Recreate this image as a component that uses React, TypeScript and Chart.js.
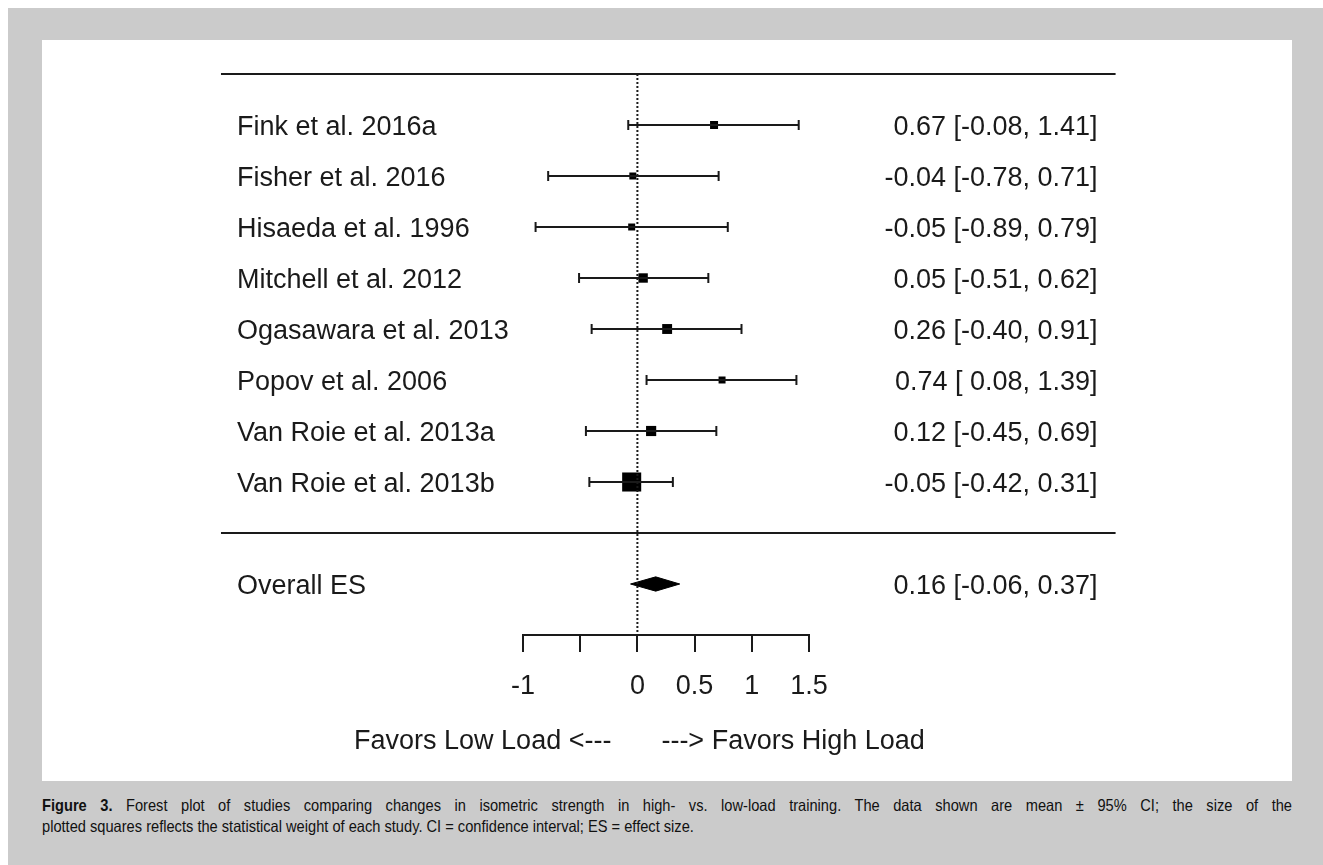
import React, { useEffect, useRef } from "react";
import { Chart, registerables } from "chart.js";

Chart.register(...registerables);

// ---------- data ----------
const studies = [
  "Fink et al. 2016a",
  "Fisher et al. 2016",
  "Hisaeda et al. 1996",
  "Mitchell et al. 2012",
  "Ogasawara et al. 2013",
  "Popov et al. 2006",
  "Van Roie et al. 2013a",
  "Van Roie et al. 2013b",
];
const effectSizes = [0.67, -0.04, -0.05, 0.05, 0.26, 0.74, 0.12, -0.05];
const ciLower = [-0.08, -0.78, -0.89, -0.51, -0.4, 0.08, -0.45, -0.42];
const ciUpper = [1.41, 0.71, 0.79, 0.62, 0.91, 1.39, 0.69, 0.31];
// relative plotted weight of each study (square size)
const relativeWeights = [0.63, 0.55, 0.55, 0.74, 0.78, 0.55, 0.8, 1.5];

const overallLabel = "Overall ES";
const overallEstimate = 0.16;
const overallLower = -0.06;
const overallUpper = 0.37;

const xTicks = [-1, -0.5, 0, 0.5, 1, 1.5];
const xTickLabels = ["-1", "", "0", "0.5", "1", "1.5"];
const xLabelLeft = "Favors Low Load <---";
const xLabelRight = "---> Favors High Load";

// plot limits in effect-size units (like R's xlim) and row layout
const XLIM = [-3.64, 4.18];
const ROW_TOP_RULE = -1;
const ROW_SEPARATOR = studies.length;
const ROW_OVERALL = studies.length + 1;
const ROW_AXIS = studies.length + 2;

const FONT = '"Liberation Sans", Arial, sans-serif';
const INK = "#1a1a1a";

const fmt = (v: number) => v.toFixed(2);
const fmtLo = (v: number) => (v < 0 ? fmt(v) : " " + fmt(v));
const annotation = (est: number, lo: number, hi: number) =>
  `${fmt(est)} [${fmtLo(lo)}, ${fmt(hi)}]`;

const textPlugin = {
  id: "forestText",
  afterDatasetsDraw(chart: any) {
    const { ctx, scales, chartArea } = chart;
    const xs = scales.x;
    const ys = scales.y;
    const left = xs.getPixelForValue(XLIM[0]) + 16;
    const right = xs.getPixelForValue(XLIM[1]) - 18;
    ctx.save();
    ctx.fillStyle = INK;
    ctx.font = `27px ${FONT}`;
    ctx.textBaseline = "alphabetic";
    studies.forEach((s, i) => {
      const y = ys.getPixelForValue(i) + 10;
      ctx.textAlign = "left";
      ctx.fillText(s, left, y);
      ctx.textAlign = "right";
      ctx.fillText(annotation(effectSizes[i], ciLower[i], ciUpper[i]), right, y);
    });
    const yo = ys.getPixelForValue(ROW_OVERALL) + 10;
    ctx.textAlign = "left";
    ctx.fillText(overallLabel, left, yo);
    ctx.textAlign = "right";
    ctx.fillText(annotation(overallEstimate, overallLower, overallUpper), right, yo);

    const x0 = xs.getPixelForValue(0);
    const yl = chartArea.bottom + 114;
    ctx.textAlign = "right";
    ctx.fillText(xLabelLeft, x0 - 26, yl);
    ctx.textAlign = "left";
    ctx.fillText(xLabelRight, x0 + 24, yl);
    ctx.restore();
  },
};

const CAPTION_SCALE = 0.887;

export default function App() {
  const ref = useRef<HTMLCanvasElement | null>(null);

  useEffect(() => {
    if (!ref.current) return;
    const lineDs = (data: any[], extra: any = {}) => ({
      type: "line",
      data,
      showLine: true,
      borderColor: INK,
      borderWidth: 2,
      pointRadius: 0,
      fill: false,
      clip: false,
      ...extra,
    });

    const datasets: any[] = [
      lineDs(
        [
          { x: 0, y: ROW_TOP_RULE },
          { x: 0, y: ROW_AXIS },
        ],
        { borderDash: [2, 2] }
      ),
      lineDs([
        { x: XLIM[0], y: ROW_TOP_RULE },
        { x: XLIM[1], y: ROW_TOP_RULE },
      ]),
      lineDs([
        { x: XLIM[0], y: ROW_SEPARATOR },
        { x: XLIM[1], y: ROW_SEPARATOR },
      ]),
      ...studies.map((_, i) =>
        lineDs([
          { x: ciLower[i], y: i },
          { x: ciUpper[i], y: i },
        ])
      ),
      {
        type: "scatter",
        data: studies.flatMap((_, i) => [
          { x: ciLower[i], y: i },
          { x: ciUpper[i], y: i },
        ]),
        pointStyle: "line",
        pointRotation: 90,
        pointRadius: 5,
        pointBorderWidth: 2,
        pointBorderColor: INK,
        clip: false,
      },
      {
        type: "scatter",
        data: effectSizes.map((v, i) => ({ x: v, y: i })),
        pointStyle: "rect",
        pointRadius: relativeWeights.map((w) => (w * 12.7) / Math.SQRT2),
        pointBackgroundColor: "#000",
        pointBorderColor: "#000",
        pointBorderWidth: 0,
        clip: false,
      },
      lineDs(
        [
          { x: overallLower, y: ROW_OVERALL },
          { x: overallEstimate, y: ROW_OVERALL - 0.14 },
          { x: overallUpper, y: ROW_OVERALL },
          { x: overallEstimate, y: ROW_OVERALL + 0.14 },
          { x: overallLower, y: ROW_OVERALL },
        ],
        { fill: "shape", backgroundColor: "#000", borderColor: "#000", borderWidth: 1 }
      ),
    ];

    const chart = new Chart(ref.current, {
      type: "scatter",
      data: { datasets },
      plugins: [textPlugin],
      options: {
        animation: false,
        responsive: false,
        events: [],
        layout: { padding: { left: 481, right: 483, top: 34, bottom: 0 } },
        plugins: { legend: { display: false }, tooltip: { enabled: false } },
        scales: {
          x: {
            type: "linear",
            min: xTicks[0],
            max: xTicks[xTicks.length - 1],
            afterBuildTicks: (s: any) => {
              s.ticks = xTicks.map((v) => ({ value: v }));
            },
            afterFit: (s: any) => {
              s.height = 146;
            },
            ticks: {
              autoSkip: false,
              maxRotation: 0,
              padding: 18,
              color: INK,
              font: { family: FONT, size: 27 },
              callback: (_v: any, i: number) => xTickLabels[i],
            },
            grid: {
              drawOnChartArea: false,
              drawTicks: true,
              tickLength: 17,
              color: INK,
              lineWidth: 2,
            },
            border: { display: true, color: INK, width: 2 },
          },
          y: {
            type: "linear",
            display: false,
            reverse: true,
            min: ROW_TOP_RULE,
            max: ROW_AXIS,
          },
        },
      } as any,
    } as any);
    return () => chart.destroy();
  }, []);

  return (
    <div
      style={{
        position: "absolute",
        left: 8,
        top: 8,
        width: 1315,
        height: 857,
        background: "#cbcbcb",
      }}
    >
      <div
        style={{
          position: "absolute",
          left: 34,
          top: 32,
          width: 1250,
          height: 741,
          background: "#fff",
        }}
      >
        <canvas ref={ref} width={1250} height={741} style={{ width: 1250, height: 741, display: "block" }} />
      </div>
      <div
        style={{
          position: "absolute",
          left: 34,
          top: 787,
          width: 1250 / CAPTION_SCALE,
          transform: `scaleX(${CAPTION_SCALE})`,
          transformOrigin: "0 0",
          fontFamily: '"Liberation Sans", Arial, sans-serif',
          fontSize: 16.5,
          lineHeight: "21px",
          color: "#111",
        }}
      >
        <div style={{ textAlign: "justify", textAlignLast: "justify", whiteSpace: "nowrap" }}>
          <b>Figure 3.</b> Forest plot of studies comparing changes in isometric strength in high- vs. low-load
          training. The data shown are mean ± 95% CI; the size of the
        </div>
        <div>
          plotted squares reflects the statistical weight of each study. CI = confidence interval; ES = effect
          size.
        </div>
      </div>
    </div>
  );
}
